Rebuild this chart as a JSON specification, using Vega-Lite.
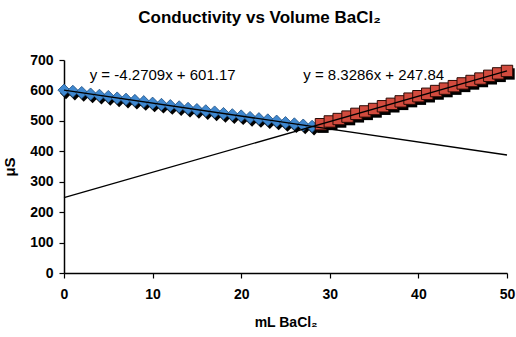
{
  "$schema": "https://vega.github.io/schema/vega-lite/v6.json",
  "width": 443,
  "height": 213,
  "autosize": {"type": "none"},
  "padding": {"left": 64, "top": 60, "right": 9, "bottom": 64},
  "background": "white",
  "config": {
    "view": {"stroke": null},
    "font": "Liberation Sans"
  },
  "title": {
    "text": "Conductivity vs Volume BaCl₂",
    "font": "Liberation Sans",
    "fontSize": 17,
    "fontWeight": "bold",
    "color": "black",
    "offset": 26,
    "dx": -26
  },
  "datasets": {
    "blue": [
      {"x": 0, "y": 601}, {"x": 1, "y": 597}, {"x": 2, "y": 593}, {"x": 3, "y": 588},
      {"x": 4, "y": 584}, {"x": 5, "y": 580}, {"x": 6, "y": 575}, {"x": 7, "y": 571},
      {"x": 8, "y": 567}, {"x": 9, "y": 563}, {"x": 10, "y": 558}, {"x": 11, "y": 554},
      {"x": 12, "y": 550}, {"x": 13, "y": 546}, {"x": 14, "y": 541}, {"x": 15, "y": 537},
      {"x": 16, "y": 533}, {"x": 17, "y": 529}, {"x": 18, "y": 524}, {"x": 19, "y": 520},
      {"x": 20, "y": 516}, {"x": 21, "y": 511}, {"x": 22, "y": 507}, {"x": 23, "y": 503},
      {"x": 24, "y": 499}, {"x": 25, "y": 494}, {"x": 26, "y": 490}, {"x": 27, "y": 486},
      {"x": 28, "y": 482}
    ],
    "red": [
      {"x": 29, "y": 489}, {"x": 30, "y": 498}, {"x": 31, "y": 506}, {"x": 32, "y": 514},
      {"x": 33, "y": 523}, {"x": 34, "y": 531}, {"x": 35, "y": 539}, {"x": 36, "y": 548},
      {"x": 37, "y": 556}, {"x": 38, "y": 564}, {"x": 39, "y": 573}, {"x": 40, "y": 581},
      {"x": 41, "y": 589}, {"x": 42, "y": 598}, {"x": 43, "y": 606}, {"x": 44, "y": 614},
      {"x": 45, "y": 623}, {"x": 46, "y": 631}, {"x": 47, "y": 639}, {"x": 48, "y": 648},
      {"x": 49, "y": 656}, {"x": 50, "y": 664}
    ],
    "labels": [
      {"x": 2.9, "y": 652, "label": "y = -4.2709x + 601.17"},
      {"x": 27.0, "y": 652, "label": "y = 8.3286x + 247.84"}
    ]
  },
  "encoding": {
    "x": {
      "field": "x", "type": "quantitative",
      "scale": {"domain": [0, 50], "nice": false, "zero": false},
      "axis": {
        "title": "mL BaCl₂",
        "values": [0, 10, 20, 30, 40, 50],
        "grid": false,
        "labelFlush": false,
        "domainColor": "black", "domainWidth": 1.5,
        "tickColor": "black", "tickSize": 5, "tickWidth": 1.2,
        "labelFont": "Liberation Sans", "labelFontSize": 14, "labelFontWeight": "bold",
        "labelColor": "black", "labelPadding": 9,
        "titleFont": "Liberation Sans", "titleFontSize": 14, "titleFontWeight": "bold",
        "titleColor": "black", "titlePadding": 14
      }
    },
    "y": {
      "field": "y", "type": "quantitative",
      "scale": {"domain": [0, 700], "nice": false},
      "axis": {
        "title": "μS",
        "values": [0, 100, 200, 300, 400, 500, 600, 700],
        "grid": false,
        "labelFlush": false,
        "domainColor": "black", "domainWidth": 1.5,
        "tickColor": "black", "tickSize": 5, "tickWidth": 1.2,
        "labelFont": "Liberation Sans", "labelFontSize": 14, "labelFontWeight": "bold",
        "labelColor": "black", "labelPadding": 6,
        "titleFont": "Liberation Sans", "titleFontSize": 15, "titleFontWeight": "bold",
        "titleColor": "black", "titlePadding": 12
      }
    }
  },
  "layer": [
    {
      "data": {"name": "blue"},
      "mark": {"type": "point", "shape": "diamond", "size": 150, "filled": true, "color": "black", "opacity": 1, "xOffset": 2, "yOffset": 3}
    },
    {
      "data": {"name": "blue"},
      "mark": {"type": "point", "shape": "diamond", "size": 150, "filled": true, "fill": "#3f88d0", "stroke": "#1f4f80", "strokeWidth": 0.8, "opacity": 1}
    },
    {
      "data": {"name": "red"},
      "mark": {"type": "point", "shape": "square", "size": 130, "filled": true, "color": "black", "opacity": 1, "xOffset": 2, "yOffset": 3}
    },
    {
      "data": {"name": "red"},
      "mark": {"type": "point", "shape": "square", "size": 130, "filled": true, "fill": "#d24b3e", "stroke": "#2a0a05", "strokeWidth": 1, "opacity": 1}
    },
    {
      "data": {"name": "blue"},
      "transform": [{"regression": "y", "on": "x", "extent": [0, 50]}],
      "mark": {"type": "line", "color": "black", "strokeWidth": 1.3}
    },
    {
      "data": {"name": "red"},
      "transform": [{"regression": "y", "on": "x", "extent": [0, 50]}],
      "mark": {"type": "line", "color": "black", "strokeWidth": 1.3}
    },
    {
      "data": {"name": "labels"},
      "mark": {"type": "text", "align": "left", "baseline": "middle", "font": "Liberation Sans", "fontSize": 15, "color": "black"},
      "encoding": {"text": {"field": "label"}}
    }
  ]
}
